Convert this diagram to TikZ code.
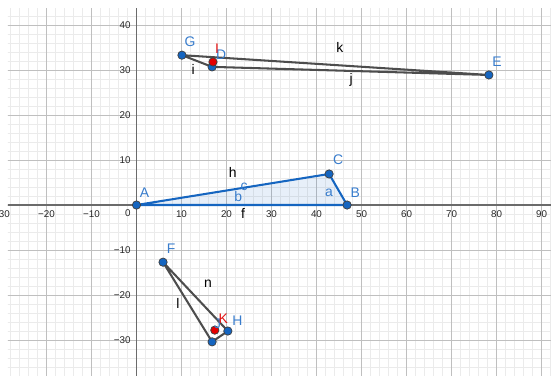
\documentclass[tikz,border=0pt]{standalone}
\usepackage{fontspec}
\setmainfont{Liberation Sans}
\usetikzlibrary{calc}
\definecolor{ggblue}{RGB}{21,101,192}
\definecolor{gglabel}{RGB}{56,124,204}
\definecolor{ggred}{RGB}{225,20,20}
\definecolor{gggray}{RGB}{77,77,77}

\begin{document}
\begin{tikzpicture}[x=1mm, y=1mm, font=\fontsize{8.8}{9}\selectfont,
    minor_grid/.style={draw=black!8, line width=0.45pt},
    major_grid/.style={draw=black!25, line width=0.55pt},
    axis_line/.style={draw=black!58, line width=0.85pt},
    tick_lab/.style={font=\fontsize{6.2}{6.5}\selectfont, text=black!85, inner sep=1pt},
    side_blue/.style={ggblue, line width=1.3pt, line join=round},
    side_gray/.style={gggray, line width=1.3pt, line join=round},
    pt_blue/.style={circle, draw=black!75, line width=0.45pt, fill=ggblue,
        minimum size=1.85mm, inner sep=0pt},
    pt_red/.style={pt_blue, fill=red!90!black},
    blab/.style={text=gglabel, inner sep=0pt},
    rlab/.style={text=ggred, inner sep=0pt},
    slab/.style={text=black, inner sep=0pt},
]
    \useasboundingbox (-30.33,-37.99) rectangle (92.11,45.56);

    % --- cuadricula y ejes ---
    \begin{scope}
        \clip (-28.56,-37.99) rectangle (92.11,43.78);
        \draw[minor_grid, step=2]  (-30,-40) grid (94,46);
        \draw[major_grid, step=10] (-30,-40) grid (94,46);
        \draw[axis_line] (-30,0) -- (94,0);
        \draw[axis_line] (0,-40) -- (0,46);
    \end{scope}

    \foreach \x/\t [count=\i] in {-30/−30,-20/−20,-10/−10,10/10,20/20,30/30,
                                 40/40,50/50,60/60,70/70,80/80,90/90}
        \node[tick_lab, anchor=north] (xl\i) at (\x,-0.8) {\t};
    \foreach \y/\t [count=\i] in {-30/−30,-20/−20,-10/−10,10/10,20/20,30/30,40/40}
        \node[tick_lab, anchor=east] (yl\i) at (-0.9,\y) {\t};
    \node[tick_lab] (zero) at (-1.9,-1.8) {0};

    % --- vertices ---
    \coordinate (A) at (0,0);
    \coordinate (B) at (46.8,0);
    \coordinate (C) at (42.8,6.9);
    \coordinate (G) at (10.1,33.3);
    \coordinate (D) at (16.8,30.7);
    \coordinate (E) at (78.3,28.9);
    \coordinate (I) at (17.0,31.8);
    \coordinate (F) at (5.9,-12.7);
    \coordinate (H) at (20.3,-28.0);
    \coordinate (J) at (16.8,-30.4);
    \coordinate (K) at (17.4,-27.8);

    % --- triangulo ABC ---
    \fill[ggblue, fill opacity=0.1] (A) -- (B) -- (C) -- cycle;
    \draw[side_blue] (A) -- (B) -- (C) -- cycle;

    % --- triangulos grises ---
    \draw[side_gray] (G) -- (D) -- (E) -- cycle;
    \draw[side_gray] (F) -- (J) -- (H) -- cycle;

    % --- puntos ---
    \node[pt_blue] (pA) at (A) {};
    \node[pt_blue] (pB) at (B) {};
    \node[pt_blue] (pC) at (C) {};
    \node[pt_blue] (pG) at (G) {};
    \node[pt_blue] (pD) at (D) {};
    \node[pt_blue] (pE) at (E) {};
    \node[pt_blue] (pF) at (F) {};
    \node[pt_blue] (pH) at (H) {};
    \node[pt_blue] (pJ) at (J) {};
    \node[pt_red]  (pI) at (I) {};
    \node[pt_red]  (pK) at (K) {};

    % --- rotulos de puntos ---
    \node[blab] (lA) at (1.8,2.8)    {A};
    \node[blab] (lB) at (48.6,2.7)   {B};
    \node[blab] (lC) at (44.8,10.0)  {C};
    \node[blab] (lG) at (11.9,36.2)  {G};
    \node[blab] (lE) at (80.1,31.8)  {E};
    \node[blab] (lD) at (18.8,33.3)  {D};
    \node[rlab] (lI) at (17.9,34.8)  {I};
    \node[blab] (lF) at (7.7,-9.8)   {F};
    \node[blab] (lH) at (22.4,-25.6) {H};
    \node[blab] (lJ) at (18.0,-26.3) {J};
    \node[rlab] (lK) at (19.3,-25.3) {K};

    % --- rotulos de lados ---
    \node[blab] (la) at (42.8,2.7)   {a};
    \node[blab] (lb) at (22.6,1.8)   {b};
    \node[blab] (lc) at (23.9,4.0)   {c};
    \node[slab] (lf) at (23.7,-1.8)  {f};
    \node[slab] (lh) at (21.4,7.3)   {h};
    \node[slab] (li) at (12.6,30.2)  {i};
    \node[slab] (lj) at (47.7,27.8)  {j};
    \node[slab] (lk) at (45.2,35.1)  {k};
    \node[slab] (ll) at (9.2,-21.8)  {l};
    \node[slab] (ln) at (15.9,-17.6) {n};

\end{tikzpicture}
\end{document}
